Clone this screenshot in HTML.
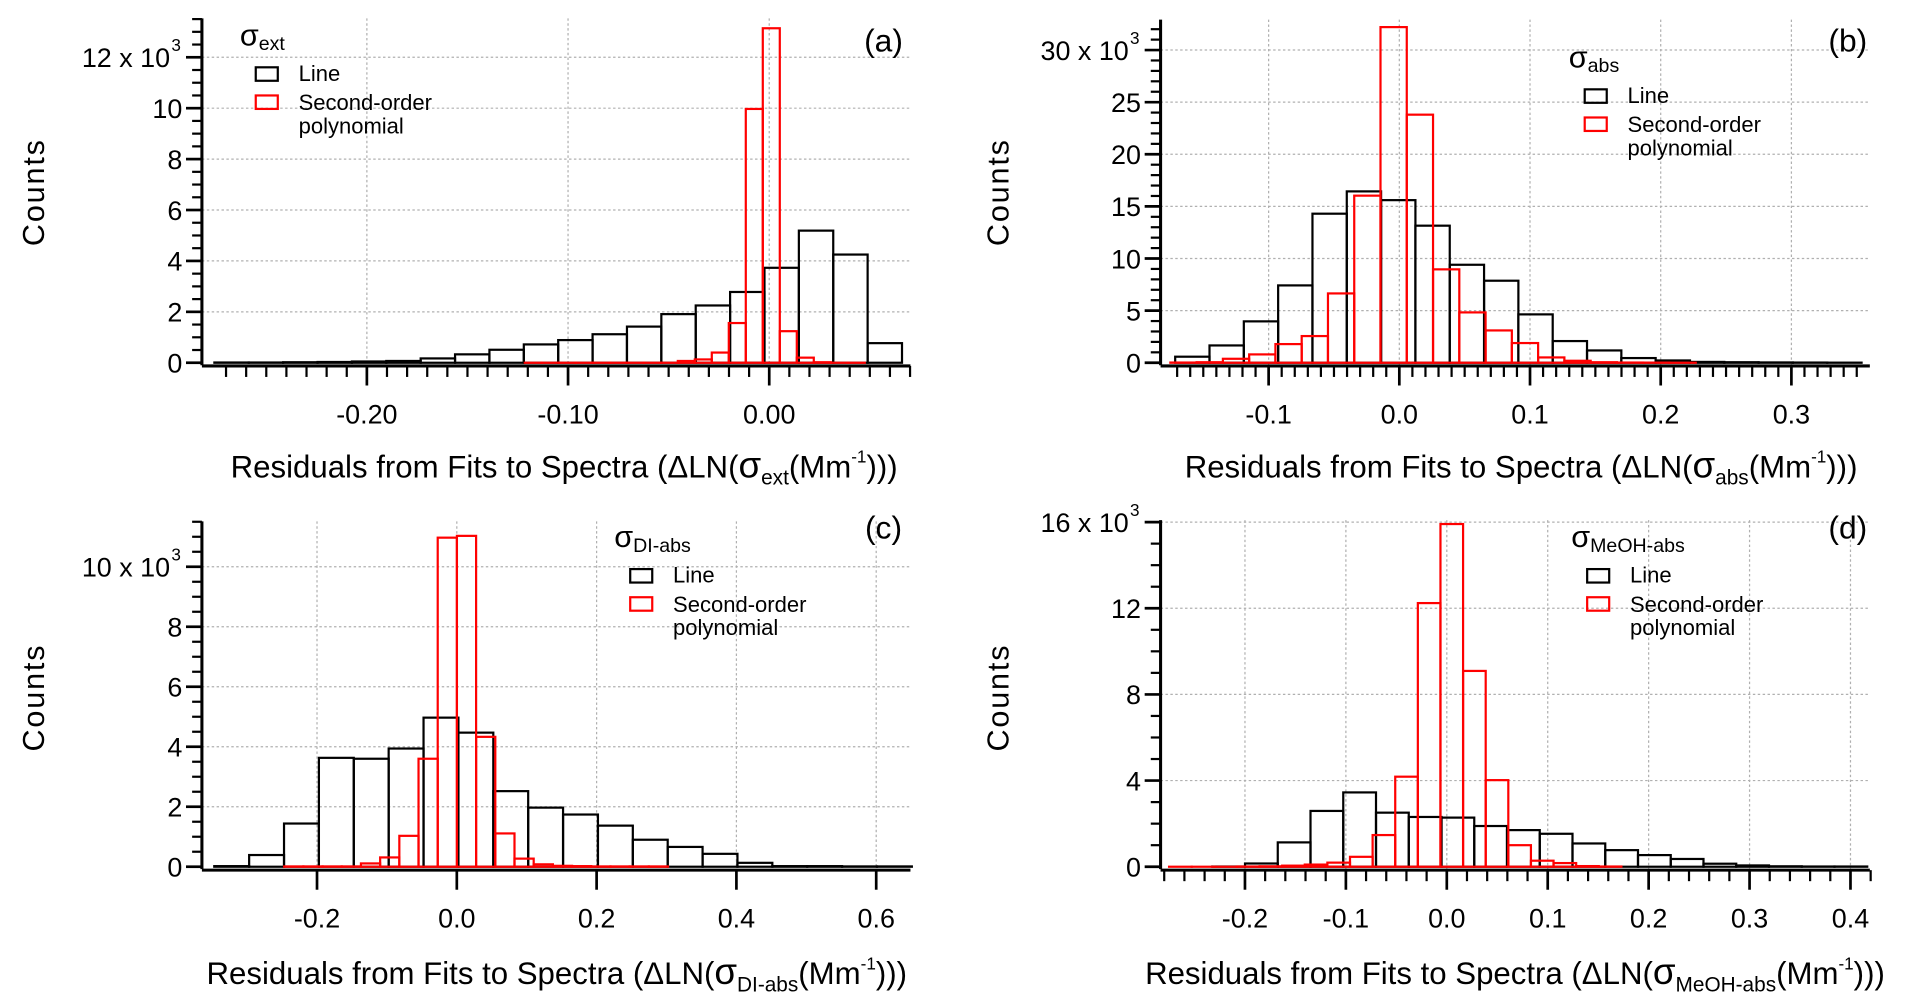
<!DOCTYPE html>
<html><head><meta charset="utf-8"><style>
html,body{margin:0;padding:0;background:#fff;}
svg{display:block;font-family:"Liberation Sans",sans-serif;}
</style></head><body>
<svg id="fig" width="1909" height="1006" viewBox="0 0 1560 822" preserveAspectRatio="none" xmlns="http://www.w3.org/2000/svg"></svg>
<script>
// ---- data (counts in thousands) ----
const aBlackStart = -0.2758, aBlackWidth = 0.01709;
const aBlack = [0.01,0.01,0.02,0.03,0.05,0.07,0.17,0.33,0.51,0.72,0.89,1.12,1.42,1.91,2.25,2.78,3.73,5.19,4.25,0.77];
const aRedStart = -0.1215, aRedWidth = 0.00845;
const aRed = [0,0,0,0,0,0,0,0,0,0.07,0.13,0.4,1.56,9.97,13.14,1.24,0.2,0.02,0,0];
const bBlackStart = -0.1715, bBlackWidth = 0.02626;
const bBlack = [0.58,1.66,3.97,7.42,14.3,16.44,15.6,13.15,9.4,7.87,4.64,2.08,1.18,0.45,0.22,0.08,0.05,0.03,0.02,0.01];
const bRedStart = -0.1752, bRedWidth = 0.0201;
const bRed = [0.02,0.05,0.38,0.8,1.79,2.56,6.65,16.03,32.2,23.8,8.96,4.83,3.1,1.89,0.51,0.19,0.05,0.02,0.01,0];
const cBlackStart = -0.347, cBlackWidth = 0.0499;
const cBlack = [0.02,0.39,1.44,3.63,3.6,3.94,4.97,4.47,2.52,1.97,1.74,1.37,0.9,0.66,0.43,0.13,0.02,0.02,0.01,0.01];
const cRedStart = -0.247, cRedWidth = 0.02746;
const cRed = [0.01,0.01,0.01,0.01,0.11,0.31,1.03,3.6,10.97,11.03,4.33,1.11,0.27,0.08,0.03,0.02,0.01,0.01,0.01,0.01];
const dBlackStart = -0.2324, dBlackWidth = 0.03245;
const dBlack = [0.01,0.15,1.13,2.59,3.45,2.51,2.31,2.28,1.89,1.7,1.53,1.08,0.77,0.54,0.36,0.14,0.06,0.02,0.01,0.01];
const dRedStart = -0.2752, dRedWidth = 0.02241;
const dRed = [0,0,0,0.01,0.02,0.05,0.1,0.19,0.46,1.47,4.18,12.24,15.91,9.09,4.02,1.0,0.28,0.17,0.03,0.01];

const aXTicks = [-0.2,-0.1,0.0], aXLabels = ["-0.20","-0.10","0.00"];
const aYTicks = [0,2,4,6,8,10,12], aYLabels = ["0","2","4","6","8","10","12"];
const bXTicks = [-0.1,0,0.1,0.2,0.3], bXLabels = ["-0.1","0.0","0.1","0.2","0.3"];
const bYTicks = [0,5,10,15,20,25,30], bYLabels = ["0","5","10","15","20","25","30"];
const cXTicks = [-0.2,0,0.2,0.4,0.6], cXLabels = ["-0.2","0.0","0.2","0.4","0.6"];
const cYTicks = [0,2,4,6,8,10], cYLabels = ["0","2","4","6","8","10"];
const dXTicks = [-0.2,-0.1,0,0.1,0.2,0.3,0.4], dXLabels = ["-0.2","-0.1","0.0","0.1","0.2","0.3","0.4"];
const dYTicks = [0,4,8,12,16], dYLabels = ["0","4","8","12","16"];

const NS = "http://www.w3.org/2000/svg";
const svg = document.getElementById('fig');
function mk(tag, attrs, parent){
  const e = document.createElementNS(NS, tag);
  for (const k in attrs) e.setAttribute(k, attrs[k]);
  (parent||svg).appendChild(e);
  return e;
}

const panels = [
 {id:'a', x0:628.6, xs:1644, y0:296.4, ys:20.8, axL:165, axR:744, axT:15, axB:299,
  xMinor:[-0.27,0.07,0.01], yMinor:0.5, yTop:13.5,
  xT:aXTicks, xL:aXLabels, yT:aYTicks, yL:aYLabels,
  bS:aBlackStart, bW:aBlackWidth, bV:aBlack, rS:aRedStart, rW:aRedWidth, rV:aRed,
  sub:'ext', countsX:27, countsY:157, titleX:461, titleY:390, letterX:722, letterY:42,
  legX:196, legY:37},
 {id:'b', x0:1143.5, xs:1068, y0:296.4, ys:8.517, axL:948.4, axR:1528, axT:16, axB:299,
  xMinor:[-0.17,0.35,0.01], yMinor:1, yTop:32.9,
  xT:bXTicks, xL:bXLabels, yT:bYTicks, yL:bYLabels,
  bS:bBlackStart, bW:bBlackWidth, bV:bBlack, rS:bRedStart, rW:bRedWidth, rV:bRed,
  sub:'abs', countsX:815, countsY:157, titleX:1243, titleY:390, letterX:1510, letterY:42,
  legX:1282, legY:55},
 {id:'c', x0:373.3, xs:571.2, y0:708.2, ys:24.51, axL:165, axR:744, axT:426, axB:711,
  xMinor:null, yMinor:0.5, yTop:11.5,
  xT:cXTicks, xL:cXLabels, yT:cYTicks, yL:cYLabels,
  bS:cBlackStart, bW:cBlackWidth, bV:cBlack, rS:cRedStart, rW:cRedWidth, rV:cRed,
  sub:'DI-abs', countsX:27, countsY:570, titleX:455, titleY:804, letterX:722, letterY:440,
  legX:502, legY:447},
 {id:'d', x0:1182.3, xs:824.7, y0:708.2, ys:17.6, axL:948.4, axR:1528, axT:425, axB:711,
  xMinor:[-0.28,0.42,0.02], yMinor:1, yTop:16,
  xT:dXTicks, xL:dXLabels, yT:dYTicks, yL:dYLabels,
  bS:dBlackStart, bW:dBlackWidth, bV:dBlack, rS:dRedStart, rW:dRedWidth, rV:dRed,
  sub:'MeOH-abs', countsX:815, countsY:570, titleX:1238, titleY:804, letterX:1510, letterY:440,
  legX:1284, legY:447}
];

panels.forEach(p => {
  const X = v => p.x0 + p.xs * v;
  const Y = v => p.y0 - p.ys * v;
  const g = mk('g', {});
  
  

  // gridlines
  p.yT.forEach(t => {
    if (t === 0) return;
    const l = mk('line', {x1:p.axL, x2:p.axR, y1:Y(t), y2:Y(t), stroke:'#b0b0b0', 'stroke-width':1, 'stroke-dasharray':'2,2'}, g);
    
    
  });
  p.xT.forEach(t => {
    const l = mk('line', {x1:X(t), x2:X(t), y1:p.axT, y2:p.axB, stroke:'#b0b0b0', 'stroke-width':1, 'stroke-dasharray':'2,2'}, g);
    
    
  });

  // bars
  function bars(start, w, vals, color, name){
    vals.forEach((v, i) => {
      const xl = X(start + i*w), xr = X(start + (i+1)*w);
      const r = mk('rect', {x:xl, y:Y(v), width:xr-xl, height:Math.max(Y(0)-Y(v),0.01), fill:'none', stroke:color, 'stroke-width':1.8}, g);
      
      
    });
  }
  bars(p.bS, p.bW, p.bV, '#000', 'line-fit-bar');
  bars(p.rS, p.rW, p.rV, '#ff0000', 'polynomial-fit-bar');

  // axes
  const ya = mk('line', {x1:p.axL, x2:p.axL, y1:p.axT, y2:p.y0+2, stroke:'#000', 'stroke-width':2.5}, g);
  
  
  const xa = mk('line', {x1:p.axL, x2:p.axR, y1:p.axB, y2:p.axB, stroke:'#000', 'stroke-width':2.5}, g);
  
  

  // y ticks
  for (let v = 0; v <= p.yTop + 1e-6; v += p.yMinor) {
    const major = p.yT.some(t => Math.abs(t - v) < 1e-6);
    mk('line', {x1:p.axL - (major?13:8), x2:p.axL, y1:Y(v), y2:Y(v), stroke:'#000', 'stroke-width':major?2.2:1.8}, g);
  }
  p.yT.forEach((t, i) => {
    const last = i === p.yT.length - 1;
    const tx = mk('text', {x:p.axL - 16, y:Y(t) + 8, 'font-size':22, 'text-anchor':'end'}, g);
    
    
    if (last) {
      tx.setAttribute('x', p.axL - 26);
      tx.textContent = p.yL[i] + ' x 10';
      const sp = mk('text', {x:p.axL - 25, y:Y(t) - 5, 'font-size':14}, g);
      sp.textContent = '3';
    } else tx.textContent = p.yL[i];
  });

  // x ticks
  if (p.xMinor) {
    const [a, b, s] = p.xMinor;
    for (let v = a; v <= b + 1e-6; v += s) {
      const major = p.xT.some(t => Math.abs(t - v) < 1e-6);
      if (!major) mk('line', {x1:X(v), x2:X(v), y1:p.axB, y2:p.axB + 9, stroke:'#000', 'stroke-width':1.8}, g);
    }
  }
  p.xT.forEach((t, i) => {
    mk('line', {x1:X(t), x2:X(t), y1:p.axB, y2:p.axB + 16, stroke:'#000', 'stroke-width':2.2}, g);
    const tx = mk('text', {x:X(t), y:p.axB + 47, 'font-size':22, 'text-anchor':'middle'}, g);
    
    
    tx.textContent = p.xL[i];
  });

  // counts label
  const ct = mk('text', {x:p.countsX, y:p.countsY, 'font-size':25, 'text-anchor':'middle', 'letter-spacing':1.5, transform:`rotate(-90 ${p.countsX} ${p.countsY}) translate(0 9)`}, g);
  
  
  ct.textContent = 'Counts';

  // x title
  const xt = mk('text', {x:p.titleX, y:p.titleY, 'font-size':25.5, 'text-anchor':'middle'}, g);
  
  
  xt.innerHTML = 'Residuals from Fits to Spectra (ΔLN(<tspan font-size="30">σ</tspan><tspan font-size="17" dy="6">' + p.sub + '</tspan><tspan dy="-6">(Mm</tspan><tspan font-size="14" dy="-12">-1</tspan><tspan dy="12">)))</tspan>';

  // panel letter
  const pl = mk('text', {x:p.letterX, y:p.letterY, 'font-size':26, 'text-anchor':'middle'}, g);
  
  
  pl.textContent = '(' + p.id + ')';

  // legend
  const lg = mk('g', {}, g);
  
  
  const sg = mk('text', {x:p.legX, y:p.legY, 'font-size':25}, lg);
  sg.innerHTML = 'σ<tspan font-size="16" dy="4">' + p.sub + '</tspan>';
  const bx = p.legX + 13;
  const e1 = mk('g', {}, lg);
  
  
  mk('rect', {x:bx, y:p.legY + 18, width:18, height:11, fill:'none', stroke:'#000', 'stroke-width':1.8}, e1);
  const t1 = mk('text', {x:bx + 35, y:p.legY + 29, 'font-size':18}, e1);
  t1.textContent = 'Line';
  const e2 = mk('g', {}, lg);
  
  
  mk('rect', {x:bx, y:p.legY + 41, width:18, height:11, fill:'none', stroke:'#ff0000', 'stroke-width':1.8}, e2);
  const t2 = mk('text', {x:bx + 35, y:p.legY + 53, 'font-size':18}, e2);
  t2.textContent = 'Second-order';
  const t3 = mk('text', {x:bx + 35, y:p.legY + 72, 'font-size':18}, e2);
  t3.textContent = 'polynomial';
});
</script>
</body></html>
